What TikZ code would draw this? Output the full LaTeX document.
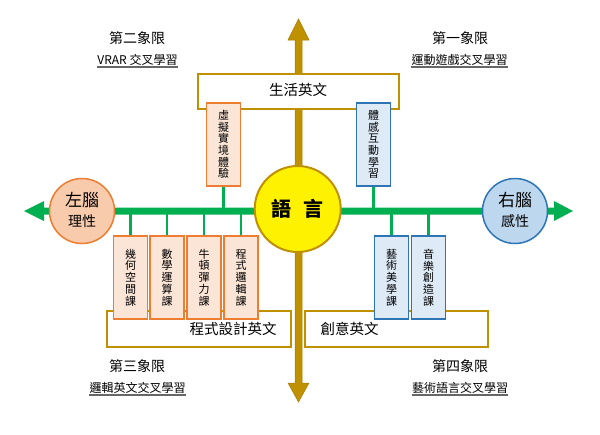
\documentclass[tikz,border=0pt]{standalone}
\usepackage{fontspec}
\setmainfont{Noto Sans CJK TC}
\definecolor{goldc}{HTML}{BF9000}
\definecolor{goldd}{HTML}{A67C00}
\definecolor{greenc}{HTML}{00B050}
\definecolor{orangec}{HTML}{ED7D31}
\definecolor{orangef}{HTML}{FBE5D6}
\definecolor{peachf}{HTML}{F8CBAD}
\definecolor{bluec}{HTML}{2E75B6}
\definecolor{bluef}{HTML}{DEEBF7}
\definecolor{bluecf}{HTML}{BDD7EE}
\tikzset{
  bigbox/.style={draw=goldc, line width=1.5pt, fill=white, minimum height=35pt, inner sep=0pt},
  obox/.style={draw=orangec, fill=orangef, line width=1.5pt, minimum width=34pt, minimum height=83pt, inner sep=0pt, align=center, font=\fontsize{11}{11.7}\selectfont},
  bbox/.style={draw=bluec, fill=bluef, line width=1.5pt, minimum width=34pt, minimum height=83pt, inner sep=0pt, align=center, font=\fontsize{11}{11.7}\selectfont},
  conn/.style={draw=greenc, line width=2.5pt},
  qtitle/.style={inner sep=0pt, font=\fontsize{14}{14}\selectfont},
  qsub/.style={inner sep=0pt, font=\fontsize{12}{12}\selectfont},
  uline/.style={draw=black!60, line width=1.2pt},
  boxtext/.style={inner sep=0pt, font=\fontsize{14.5}{14.5}\selectfont}
}
\begin{document}
\begin{tikzpicture}[x=1pt,y=-1pt]
\useasboundingbox (0,0) rectangle (600,434);
% vertical gold arrow
\filldraw[fill=goldc, draw=goldd, line width=0.5pt]
  (298.5,19) -- (309,40) -- (302,40) -- (302,383) -- (309,383) -- (298.5,402)
  -- (288,383) -- (295,383) -- (295,40) -- (288,40) -- cycle;
% horizontal green arrow
\fill[greenc]
  (24,211) -- (44,201) -- (44,207.5) -- (554,207.5) -- (554,201) -- (573,211)
  -- (554,221) -- (554,214.5) -- (44,214.5) -- (44,221) -- cycle;
\coordinate (hl) at (0,211);
% big boxes
\node[bigbox, minimum width=201pt] (life) at (298.5,91.5) {};
\node[boxtext] (lifet) at (298,90) {生活英文};
\node[bigbox, minimum width=184pt, minimum height=36pt] (prog) at (199,329) {};
\node[boxtext] (progt) at (233,329) {程式設計英文};
\node[bigbox, minimum width=183pt, minimum height=36pt] (crea) at (396.5,329) {};
\node[boxtext] (creat) at (349.5,329) {創意英文};
% small boxes
\node[obox] (vr) at (223.5,144.5) {虛\\擬\\實\\境\\體\\驗};
\node[bbox] (mo) at (373.5,144.5) {體\\感\\互\\動\\學\\習};
\node[obox] (b1) at (130.5,277.5) {幾\\何\\空\\間\\課};
\node[obox] (b2) at (167,277.5) {數\\學\\運\\算\\課};
\node[obox] (b3) at (204,277.5) {牛\\頓\\彈\\力\\課};
\node[obox] (b4) at (241,277.5) {程\\式\\邏\\輯\\課};
\node[bbox] (c1) at (391.5,277.5) {藝\\術\\美\\學\\課};
\node[bbox] (c2) at (428.5,277.5) {音\\樂\\創\\造\\課};
% connectors
\foreach \n in {vr,mo}{\draw[conn] (\n.south) -- (\n.south |- hl);}
\foreach \n in {b1,b2,b3,b4,c1,c2}{\draw[conn] (\n.north) -- (\n.north |- hl);}
% circles
\node[circle, draw=goldc, line width=2pt, fill=yellow, minimum size=86pt, inner sep=0pt] (lang) at (297.7,209) {};
\node[inner sep=0pt, font=\fontsize{20}{20}\selectfont\bfseries] (langt) at (297.7,209) {語\hspace{12pt}言};
\node[circle, draw=orangec, line width=1.5pt, fill=peachf, minimum size=65pt, inner sep=0pt] (left) at (82,211) {};
\node[inner sep=0pt, font=\fontsize{17}{17}\selectfont] (leftt) at (82,200) {左腦};
\node[inner sep=0pt, font=\fontsize{14}{14}\selectfont] (lefts) at (82,221) {理性};
\node[circle, draw=bluec, line width=1.5pt, fill=bluecf, minimum size=65pt, inner sep=0pt] (right) at (515,211) {};
\node[inner sep=0pt, font=\fontsize{17}{17}\selectfont] (rightt) at (515,200) {右腦};
\node[inner sep=0pt, font=\fontsize{14}{14}\selectfont] (rights) at (515,221) {感性};
% quadrant labels
\node[qtitle] (q2) at (137,38) {第二象限};
\node[qsub] (q2s) at (137.5,60) {VRAR 交叉學習};
\node[qtitle] (q1) at (460,38) {第一象限};
\node[qsub] (q1s) at (459.5,60) {運動遊戲交叉學習};
\node[qtitle] (q3) at (137,366) {第三象限};
\node[qsub] (q3s) at (137.5,388) {邏輯英文交叉學習};
\node[qtitle] (q4) at (460,366) {第四象限};
\node[qsub] (q4s) at (460,388) {藝術語言交叉學習};
\foreach \n in {q1s,q2s,q3s,q4s}{\draw[uline] ([yshift=-7pt]\n.west) -- ([yshift=-7pt]\n.east);}
\end{tikzpicture}
\end{document}
